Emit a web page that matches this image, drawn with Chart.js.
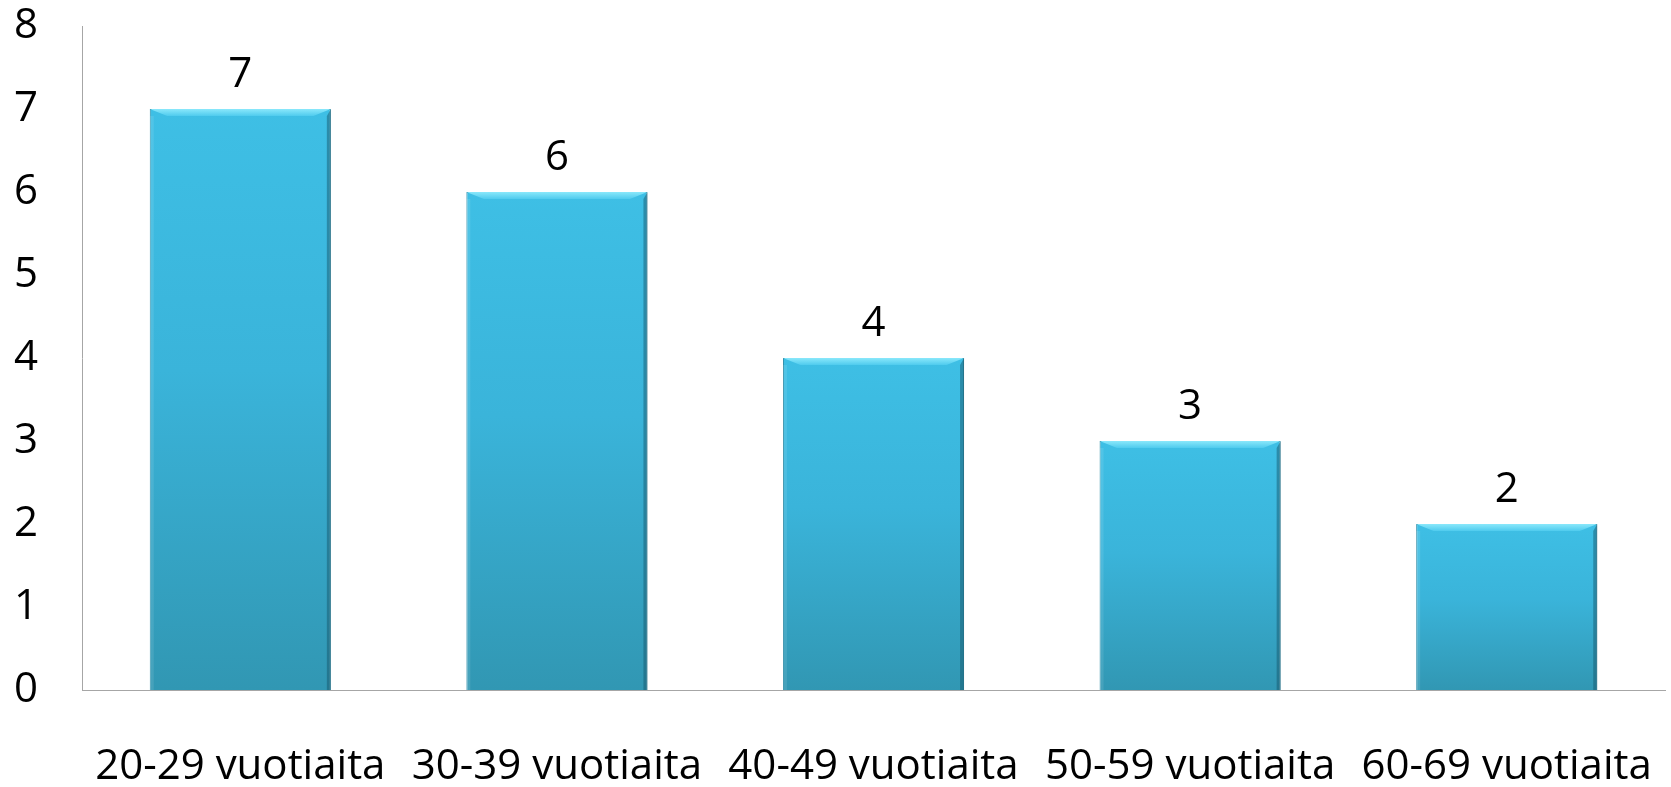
<!DOCTYPE html>
<html>
<head>
<meta charset="utf-8">
<script src="https://cdn.jsdelivr.net/npm/chart.js@4"></script>
<style>
  html, body { margin: 0; padding: 0; background: #fff; }
  #wrap { width: 1671px; height: 787px; }
</style>
</head>
<body>
<div id="wrap"><canvas id="ageChart" width="1671" height="787"></canvas></div>
<script>
const categories = ["20-29 vuotiaita", "30-39 vuotiaita", "40-49 vuotiaita", "50-59 vuotiaita", "60-69 vuotiaita"];
const counts = [7, 6, 4, 3, 2];
const yTicks = [0, 1, 2, 3, 4, 5, 6, 7, 8];

const FONT = "'Open Sans', sans-serif";
const FONT_SIZE = 42;
const AXIS_GREY = "#a6a6a6";

// vertical gradient per bar, light top -> darker base
function barFill(ctx) {
  const chart = ctx.chart;
  const y = chart.scales && chart.scales.y;
  if (!chart.chartArea || !y || ctx.parsed == null) return "#3ab6dc";
  const top = y.getPixelForValue(ctx.parsed.y);
  const base = y.getPixelForValue(0);
  const g = chart.ctx.createLinearGradient(0, top, 0, base);
  g.addColorStop(0, "#3ebfe5");
  g.addColorStop(0.45, "#3ab4da");
  g.addColorStop(1, "#3197b3");
  return g;
}

// bevel edges + value labels on top of the bars
const bevelAndLabels = {
  id: "bevelAndLabels",
  afterDatasetsDraw(chart) {
    const c = chart.ctx;
    const meta = chart.getDatasetMeta(0);
    meta.data.forEach((bar, i) => {
      const left = bar.x - bar.width / 2;
      const right = bar.x + bar.width / 2;
      const top = bar.y;
      const base = bar.base;
      const b = 7;
      c.save();
      // top light bevel
      const tg = c.createLinearGradient(0, top, 0, top + b);
      tg.addColorStop(0, "#8ae8fb");
      tg.addColorStop(1, "#4fcbee");
      c.fillStyle = tg;
      c.beginPath();
      c.moveTo(left, top);
      c.lineTo(right, top);
      c.lineTo(right - b * 2.5, top + b);
      c.lineTo(left + b * 2.5, top + b);
      c.closePath();
      c.fill();
      // right dark edge
      c.fillStyle = "rgba(20,80,100,0.45)";
      c.beginPath();
      c.moveTo(right, top);
      c.lineTo(right, base);
      c.lineTo(right - 4, base);
      c.lineTo(right - 4, top + b);
      c.closePath();
      c.fill();
      // left subtle edge
      c.fillStyle = "rgba(255,255,255,0.10)";
      c.fillRect(left, top + b, 4, base - top - b);
      // value label
      c.fillStyle = "#000";
      c.font = FONT_SIZE + "px " + FONT;
      c.textAlign = "center";
      c.textBaseline = "alphabetic";
      c.fillText(String(counts[i]), bar.x, top - 22);
      c.restore();
    });
  }
};

const ctx = document.getElementById("ageChart").getContext("2d");
new Chart(ctx, {
  type: "bar",
  data: {
    labels: categories,
    datasets: [
      {
        data: counts,
        backgroundColor: barFill,
        borderColor: "#2b8aa6",
        borderWidth: 1,
        borderSkipped: "bottom",
        categoryPercentage: 1,
        barPercentage: 0.572,
      },
    ],
  },
  options: {
    responsive: false,
    animation: false,
    layout: { padding: { top: 26, right: 6, left: 0, bottom: 0 } },
    plugins: { legend: { display: false }, tooltip: { enabled: false } },
    scales: {
      x: {
        grid: { display: false, drawTicks: false },
        border: { display: true, color: AXIS_GREY, width: 1 },
        ticks: {
          color: "#000",
          font: { family: FONT, size: FONT_SIZE },
          padding: 52,
          maxRotation: 0,
          autoSkip: false,
        },
        afterFit(scale) {
          scale.height = 97;
          scale.paddingLeft = 0;
          scale.paddingRight = 0;
        },
      },
      y: {
        min: 0,
        max: 8,
        afterBuildTicks(scale) { scale.ticks = yTicks.map((v) => ({ value: v })); },
        grid: { display: false, drawTicks: false },
        border: { display: true, color: AXIS_GREY, width: 1 },
        ticks: {
          color: "#000",
          font: { family: FONT, size: FONT_SIZE },
          padding: 44,
        },
        afterFit(scale) {
          scale.width = 82;
          scale.paddingTop = 0;
          scale.paddingBottom = 0;
        },
      },
    },
  },
  plugins: [bevelAndLabels],
});
</script>
</body>
</html>
